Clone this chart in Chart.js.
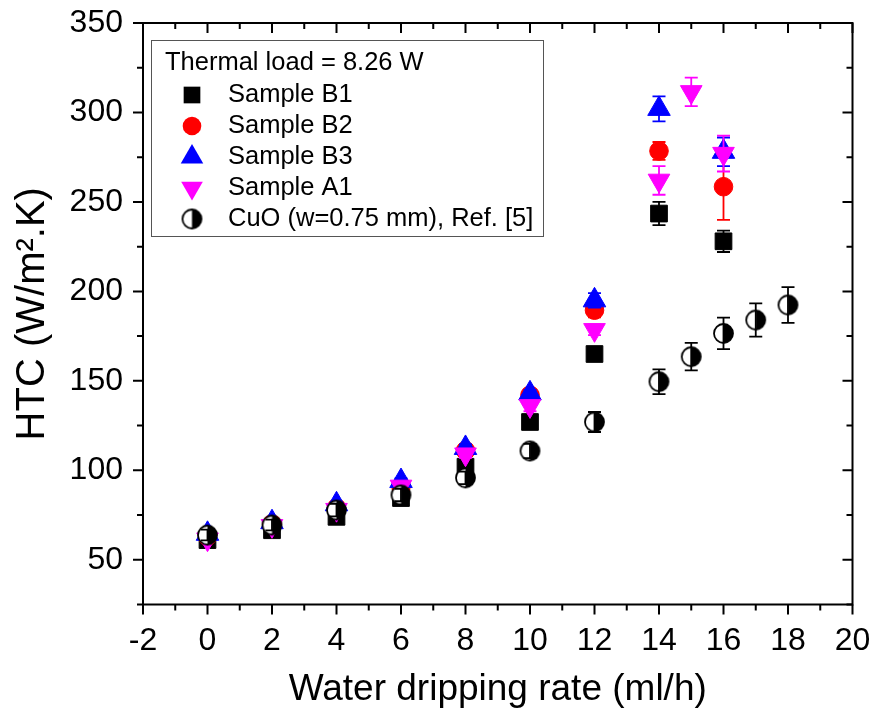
<!DOCTYPE html>
<html>
<head>
<meta charset="utf-8">
<script src="https://cdn.jsdelivr.net/npm/chart.js@4.4.1/dist/chart.umd.min.js"></script>
<style>
  html, body { margin: 0; padding: 0; background: #fff; }
  canvas { display: block; }
</style>
</head>
<body>
<canvas id="htc" width="873" height="717"></canvas>
<script>
// water dripping rate (ml/h)
const ratesB = [0, 2, 4, 6, 8, 10, 12, 14, 16];
const ratesA1 = [0, 2, 4, 6, 8, 10, 12, 14, 15, 16];
const ratesCuO = [0, 2, 4, 6, 8, 10, 12, 14, 15, 16, 17, 18];

// HTC (W/m2.K) with error bars
const htcB1 = [61, 66.5, 74, 84.5, 102, 127, 165, 243.5, 228];
const errB1 = [1, 1, 1.5, 1.5, 2, 2, 2, 6.5, 6];
const htcB2 = [63, 70, 79, 91, 111, 142, 189.5, 278.5, 258.5];
const errB2 = [1, 1, 1, 1.5, 2, 3, 4, 5, 18.5];
const htcB3 = [64.5, 71, 81, 94, 112.5, 143, 195, 302, 278];
const errB3 = [1, 1, 1, 1.5, 2, 2, 4, 7, 8];
const htcA1 = [61.5, 69, 78, 91, 109, 136, 178.5, 262, 311.5, 277];
const errA1 = [1, 1, 1, 1.5, 2, 3, 3, 8, 8, 10];
const htcCuO = [63.8, 69.4, 77.8, 86.2, 95.8, 110.8, 127, 149.5, 163.5, 176.5, 184, 192.4];
const errCuO = [3, 3, 3.5, 3.5, 3.5, 4, 5.6, 6.9, 7.7, 8.8, 9.3, 10];

const xTicks = [-2, 0, 2, 4, 6, 8, 10, 12, 14, 16, 18, 20];
const yTicks = [50, 100, 150, 200, 250, 300, 350];
const legendTitle = 'Thermal load = 8.26 W';

const FONT = '"Liberation Sans", Arial, sans-serif';

function pts(xs, ys) {
  return xs.map((x, i) => ({ x: x, y: ys[i] }));
}

// open circle with the right half filled
function halfCircle(r) {
  const c = document.createElement('canvas');
  const s = Math.ceil(2 * r + 4);
  c.width = c.height = s;
  const g = c.getContext('2d');
  const m = s / 2;
  g.beginPath(); g.arc(m, m, r, 0, Math.PI * 2); g.fillStyle = '#fff'; g.fill();
  g.beginPath(); g.moveTo(m, m - r); g.arc(m, m, r, -Math.PI / 2, Math.PI / 2); g.closePath();
  g.fillStyle = '#000'; g.fill();
  g.beginPath(); g.arc(m, m, r, 0, Math.PI * 2); g.lineWidth = 1.8; g.strokeStyle = '#000'; g.stroke();
  return c;
}
const cuoMarker = halfCircle(9.5);

const datasets = [
  { label: 'Sample B1', data: pts(ratesB, htcB1), errors: errB1, color: '#000000',
    pointStyle: 'rect', pointRadius: 11.8, order: 5 },
  { label: 'Sample B2', data: pts(ratesB, htcB2), errors: errB2, color: '#ff0000',
    pointStyle: 'circle', pointRadius: 9.3, order: 4 },
  { label: 'Sample B3', data: pts(ratesB, htcB3), errors: errB3, color: '#0000ff',
    pointStyle: 'triangle', pointRadius: 13, order: 3 },
  { label: 'Sample A1', data: pts(ratesA1, htcA1), errors: errA1, color: '#ff00ff',
    pointStyle: 'triangle', pointRotation: 180, pointRadius: 12.5, order: 2 },
  { label: 'CuO (w=0.75 mm), Ref. [5]', data: pts(ratesCuO, htcCuO), errors: errCuO, color: '#000000',
    pointStyle: cuoMarker, pointRadius: 9.5, order: 1 }
].map(d => Object.assign(d, {
  backgroundColor: d.color,
  borderColor: d.color,
  borderWidth: 1,
  pointHoverRadius: d.pointRadius,
  showLine: false
}));

// vertical error bars, drawn over each series' own markers
const errorBars = {
  id: 'errorBars',
  afterDatasetDraw(chart, args) {
    const ds = chart.data.datasets[args.index];
    if (!ds.errors) return;
    const ctx = chart.ctx;
    const y = chart.scales.y;
    ctx.save();
    ctx.strokeStyle = ds.color;
    ctx.lineWidth = 1.8;
    ctx.beginPath();
    args.meta.data.forEach((pt, i) => {
      const e = ds.errors[i];
      if (!e) return;
      const v = ds.data[i].y;
      const y1 = y.getPixelForValue(v + e);
      const y2 = y.getPixelForValue(v - e);
      const hw = 6.5;
      ctx.moveTo(pt.x, y1); ctx.lineTo(pt.x, y2);
      ctx.moveTo(pt.x - hw, y1); ctx.lineTo(pt.x + hw, y1);
      ctx.moveTo(pt.x - hw, y2); ctx.lineTo(pt.x + hw, y2);
    });
    ctx.stroke();
    ctx.restore();
  }
};

// box frame: outward ticks on bottom/left, inward ticks on top/right
const frame = {
  id: 'frame',
  afterDraw(chart) {
    const { ctx, chartArea: a, scales: { x, y } } = chart;
    ctx.save();
    ctx.strokeStyle = '#000';
    ctx.lineWidth = 2;
    ctx.beginPath();
    for (let v = x.min; v <= x.max; v += 1) {
      const px = x.getPixelForValue(v);
      const len = xTicks.includes(v) ? 10 : 6;
      ctx.moveTo(px, a.bottom); ctx.lineTo(px, a.bottom + len);
      ctx.moveTo(px, a.top); ctx.lineTo(px, a.top + len);
    }
    for (let v = y.min; v <= y.max; v += 25) {
      const py = y.getPixelForValue(v);
      const len = yTicks.includes(v) ? 10 : 6;
      ctx.moveTo(a.left, py); ctx.lineTo(a.left - len, py);
      ctx.moveTo(a.right, py); ctx.lineTo(a.right - len, py);
    }
    ctx.stroke();
    ctx.strokeRect(a.left, a.top, a.right - a.left, a.bottom - a.top);
    ctx.restore();
  }
};

function drawMarker(ctx, ds, cx, cy) {
  const r = ds.pointRadius;
  ctx.fillStyle = ds.color;
  ctx.beginPath();
  if (ds.pointStyle === 'rect') {
    const h = r * Math.SQRT1_2;
    ctx.rect(cx - h, cy - h, 2 * h, 2 * h);
  } else if (ds.pointStyle === 'circle') {
    ctx.arc(cx, cy, r, 0, Math.PI * 2);
  } else if (ds.pointStyle === 'triangle') {
    const s = ds.pointRotation === 180 ? -1 : 1;
    const w = r * Math.sin(Math.PI / 3);
    ctx.moveTo(cx, cy - s * r);
    ctx.lineTo(cx + w, cy + s * r / 2);
    ctx.lineTo(cx - w, cy + s * r / 2);
    ctx.closePath();
  } else {
    ctx.drawImage(ds.pointStyle, cx - ds.pointStyle.width / 2, cy - ds.pointStyle.height / 2);
    return;
  }
  ctx.fill();
}

const boxLegend = {
  id: 'boxLegend',
  afterDraw(chart) {
    const ctx = chart.ctx;
    const a = chart.chartArea;
    const bx = a.left + 8, by = a.top + 17, bw = 392, bh = 196;
    ctx.save();
    ctx.fillStyle = '#fff';
    ctx.fillRect(bx, by, bw, bh);
    ctx.strokeStyle = '#555';
    ctx.lineWidth = 1;
    ctx.strokeRect(bx + 0.5, by + 0.5, bw, bh);
    ctx.font = '25.5px ' + FONT;
    ctx.textBaseline = 'middle';
    ctx.fillStyle = '#000';
    ctx.fillText(legendTitle, bx + 14, by + 23);
    chart.data.datasets.forEach((ds, i) => {
      const cy = by + 55 + i * 31;
      drawMarker(ctx, ds, bx + 41, cy);
      ctx.fillStyle = '#000';
      ctx.fillText(ds.label, bx + 77, cy);
    });
    ctx.restore();
  }
};

new Chart(document.getElementById('htc'), {
  type: 'scatter',
  data: { datasets: datasets },
  options: {
    responsive: false,
    animation: false,
    layout: { padding: { top: 23, right: 20.5, left: 0, bottom: 0 } },
    plugins: { legend: { display: false }, tooltip: { enabled: false } },
    scales: {
      x: {
        type: 'linear',
        min: -2,
        max: 20,
        afterFit: s => { s.height = 112.5; s.paddingLeft = 0; s.paddingRight = 0; },
        afterBuildTicks: s => { s.ticks = xTicks.map(v => ({ value: v })); },
        grid: { display: false, drawTicks: false },
        border: { display: false },
        ticks: { color: '#000', padding: 17, font: { family: FONT, size: 32 } },
        title: {
          display: true,
          text: 'Water dripping rate (ml/h)',
          color: '#000',
          font: { family: FONT, size: 37 },
          padding: { bottom: 5 }
        }
      },
      y: {
        type: 'linear',
        min: 25,
        max: 350,
        afterFit: s => { s.width = 143; s.paddingTop = 0; s.paddingBottom = 0; },
        afterBuildTicks: s => { s.ticks = yTicks.map(v => ({ value: v })); },
        grid: { display: false, drawTicks: false },
        border: { display: false },
        ticks: { color: '#000', padding: 20, font: { family: FONT, size: 32 } },
        title: {
          display: true,
          text: 'HTC (W/m\u00B2.K)',
          color: '#000',
          font: { family: FONT, size: 40 },
          padding: { top: 9 }
        }
      }
    }
  },
  plugins: [errorBars, frame, boxLegend]
});
</script>
</body>
</html>
